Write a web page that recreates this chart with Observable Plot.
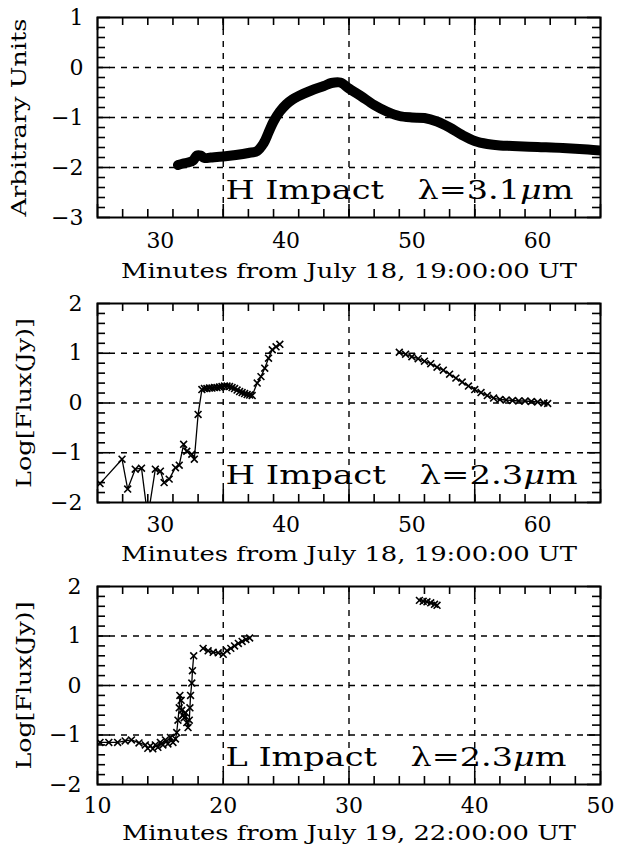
<!DOCTYPE html>
<html><head><meta charset="utf-8">
<script src="https://cdn.jsdelivr.net/npm/d3@7"></script>
<script src="https://cdn.jsdelivr.net/npm/@observablehq/plot@0.6"></script>
<style>
html,body{margin:0;padding:0;background:#fff;overflow:hidden;}
#chart svg{display:block;}
</style></head><body><div id="chart"></div>
<script>
// ---------- Panel 1: H impact, 3.1 micron ----------
const p1Minutes = [31.4,31.8,32.2,32.6,32.9,33.2,33.5,34,35,36,37,37.7,38.2,38.6,39,39.5,40,40.5,41,42,43,43.6,44.3,45,45.5,46,47,48,49,50,51,52,53,54,55,56,57,58,60,62,64,65];
const p1Units   = [-1.95,-1.92,-1.9,-1.86,-1.76,-1.76,-1.81,-1.8,-1.78,-1.75,-1.71,-1.67,-1.52,-1.3,-1.08,-0.88,-0.74,-0.64,-0.57,-0.46,-0.37,-0.31,-0.3,-0.42,-0.5,-0.58,-0.75,-0.88,-0.97,-1.0,-1.01,-1.08,-1.2,-1.35,-1.47,-1.53,-1.56,-1.57,-1.59,-1.61,-1.64,-1.66];

// ---------- Panel 2: H impact, 2.3 micron ----------
const p2aMinutes = [25.2,26.95,27.4,28.0,28.5,29.0,29.6,30.0,30.3,30.7,31.2,31.5,31.85,32.1,32.5,32.7,33.0,33.3,33.5,33.7,33.9,34.1,34.3,34.5,34.7,34.9,35.1,35.3,35.5,35.7,35.9,36.1,36.3,36.5,36.7,36.9,37.1,37.3,37.7,38.0,38.3,38.6,38.9,39.2,39.5];
const p2aFlux    = [-1.62,-1.13,-1.73,-1.33,-1.31,-2.3,-1.33,-1.37,-1.6,-1.53,-1.3,-1.25,-0.83,-0.97,-1.03,-1.13,-0.23,0.27,0.29,0.29,0.30,0.30,0.31,0.31,0.32,0.33,0.34,0.34,0.33,0.31,0.29,0.26,0.23,0.21,0.19,0.17,0.16,0.15,0.4,0.53,0.7,0.9,1.07,1.13,1.18];
const p2bMinutes = [49.0,49.5,50.0,50.5,51,51.5,52,52.5,53,53.5,54,54.5,55,55.5,56,56.5,57,57.5,58,58.5,59,59.5,60,60.5,60.8];
const p2bFlux    = [1.02,0.98,0.93,0.89,0.84,0.79,0.72,0.66,0.58,0.5,0.42,0.34,0.27,0.21,0.15,0.1,0.07,0.06,0.05,0.04,0.04,0.03,0.02,0.0,-0.01];

// ---------- Panel 3: L impact, 2.3 micron ----------
const p3aMinutes = [10.2,10.9,11.6,12.2,12.7,13.3,13.8,14.0,14.2,14.4,14.6,14.8,15.0,15.2,15.4,15.6,15.8,16.0,16.2,16.3,16.4,16.5,16.55,16.65,16.7,16.8,16.9,17.0,17.1,17.2,17.3,17.35,17.4,17.5,17.55,17.65];
const p3aFlux    = [-1.15,-1.15,-1.15,-1.12,-1.1,-1.16,-1.2,-1.27,-1.22,-1.28,-1.2,-1.25,-1.15,-1.2,-1.1,-1.18,-1.05,-1.15,-1.08,-0.95,-0.7,-0.45,-0.2,-0.3,-0.5,-0.6,-0.65,-0.55,-0.75,-0.85,-0.7,-0.45,-0.2,0.05,0.3,0.6];
const p3bMinutes = [18.4,18.8,19.2,19.6,20.0,20.3,20.6,20.9,21.2,21.5,21.8,22.1];
const p3bFlux    = [0.75,0.7,0.67,0.66,0.63,0.7,0.75,0.8,0.85,0.89,0.93,0.96];
const p3cMinutes = [35.6,35.9,36.2,36.5,36.8,37.0];
const p3cFlux    = [1.72,1.70,1.69,1.67,1.64,1.62];

// ---------- axes ----------
const p12XTicks = [30,40,50,60];
const p1YTicks  = [1,0,-1,-2,-3];
const p23YTicks = [2,1,0,-1,-2];
const p3XTicks  = [10,20,30,40,50];
const xLabel1 = "Minutes from July 18, 19:00:00 UT";
const xLabel3 = "Minutes from July 19, 22:00:00 UT";
const yLabel1 = "Arbitrary Units";
const yLabel23 = "Log[Flux(Jy)]";
const note1 = "H Impact\u2002\u2002λ=3.1μm";
const note2 = "H Impact\u2002\u2002λ=2.3μm";
const note3 = "L Impact\u2002\u2002λ=2.3μm";

const rows = (xs, ys, seg) => xs.map((x, i) => ({x, y: ys[i], seg}));
const NS = "http://www.w3.org/2000/svg";
const intFormat = d => d < 0 ? "\u2212" + (-d) : String(d);

function fitText(svg, str, len) {
  const t = [...svg.querySelectorAll("text")].find(e => e.textContent === str);
  if (!t) return;
  const i = str.indexOf("μ");
  if (i >= 0) {
    t.textContent = "";
    for (const [s, it] of [[str.slice(0, i), false], ["μ", true], [str.slice(i + 1), false]]) {
      const ts = document.createElementNS(NS, "tspan");
      ts.textContent = s;
      if (it) ts.setAttribute("font-style", "italic");
      t.appendChild(ts);
    }
  }
  t.setAttribute("textLength", len);
  t.setAttribute("lengthAdjust", "spacingAndGlyphs");
}

function panel(o) {
  const W = 617, ml = 97, mr = 17, fw = W - ml - mr;
  const fh = o.fh, height = o.mt + fh + o.mb;
  const MAJ = 13, MIN = 8;
  const tk = {stroke: "black", strokeWidth: 1.6};
  const [x0, x1] = o.xDomain, [y0, y1] = o.yDomain;
  const xMajor = d3.range(x0, x1 + 0.001, 10);
  const xMinor = d3.range(x0 / 2, x1 / 2 + 0.001).map(v => v * 2).filter(v => v % 10 !== 0 && v > x0 && v < x1);
  const yMajor = d3.range(y0, y1 + 0.001, 1);
  const yMinor = d3.range(y0 * 5, y1 * 5 + 0.001).map(v => v / 5).filter(v => Math.abs(v - Math.round(v)) > 1e-6);
  const xGrid = xMajor.filter(v => v > x0 && v < x1);
  const yGrid = yMajor.filter(v => v > y0 && v < y1);
  const svg = Plot.plot({
    width: W, height, marginLeft: ml, marginRight: mr, marginTop: o.mt, marginBottom: o.mb,
    style: {fontFamily: "DejaVu Serif", background: "white", color: "black", overflow: "visible"},
    x: {domain: o.xDomain},
    y: {domain: o.yDomain},
    marks: [
      Plot.ruleX(xGrid, {x: d => d, stroke: "black", strokeWidth: 1.4, strokeDasharray: "6,6"}),
      Plot.ruleY(yGrid, {y: d => d, stroke: "black", strokeWidth: 1.4, strokeDasharray: "6,6"}),
      Plot.tickX(xMajor, {x: d => d, insetTop: fh - MAJ, ...tk}),
      Plot.tickX(xMajor, {x: d => d, insetBottom: fh - MAJ, ...tk}),
      Plot.tickX(xMinor, {x: d => d, insetTop: fh - MIN, ...tk}),
      Plot.tickX(xMinor, {x: d => d, insetBottom: fh - MIN, ...tk}),
      Plot.tickY(yMajor, {y: d => d, insetRight: fw - MAJ, ...tk}),
      Plot.tickY(yMajor, {y: d => d, insetLeft: fw - MAJ, ...tk}),
      Plot.tickY(yMinor, {y: d => d, insetRight: fw - MIN, ...tk}),
      Plot.tickY(yMinor, {y: d => d, insetLeft: fw - MIN, ...tk}),
      Plot.axisX({ticks: o.xTicks, tickSize: 0, tickPadding: o.xPad, fontSize: 22, label: null, tickFormat: intFormat}),
      Plot.axisY({ticks: o.yTicks, tickSize: 0, tickPadding: o.yPad, fontSize: 22, label: null, tickFormat: intFormat}),
      Plot.frame({stroke: "black", strokeWidth: 2}),
      ...o.marks,
      Plot.text([o.xLabel], {text: d => d, frameAnchor: "bottom", textAnchor: "middle", lineAnchor: "middle", dy: o.xlDy, fontFamily: "DejaVu Serif", fontSize: 20.5}),
      Plot.text([o.yLabel], {text: d => d, frameAnchor: "left", textAnchor: "middle", lineAnchor: "middle", rotate: -90, dx: o.ylDx, fontFamily: "DejaVu Serif", fontSize: 20}),
      Plot.text([o.note], {text: d => d, frameAnchor: "bottom-right", textAnchor: "end", lineAnchor: "middle", dx: o.noteDx, dy: -27, fontFamily: "DejaVu Serif", fontSize: 26.5})
    ]
  });
  fitText(svg, o.xLabel, o.xlLen);
  fitText(svg, o.yLabel, o.ylLen);
  fitText(svg, o.note, o.noteLen);
  return svg;
}

const crossStyle = {symbol: "times", r: 3.2, stroke: "black", strokeWidth: 1.6, clip: true};
const p2 = [...rows(p2aMinutes, p2aFlux, "a"), ...rows(p2bMinutes, p2bFlux, "b")];
const p3 = [...rows(p3aMinutes, p3aFlux, "a"), ...rows(p3bMinutes, p3bFlux, "b"), ...rows(p3cMinutes, p3cFlux, "c")];

const chart = document.getElementById("chart");
chart.append(panel({
  xDomain: [25, 65], yDomain: [-3, 1], xTicks: p12XTicks, yTicks: p1YTicks,
  mt: 17, fh: 200, mb: 68, xPad: 15, yPad: 14,
  xLabel: xLabel1, xlDy: 54, xlLen: 456,
  yLabel: yLabel1, ylDx: -78, ylLen: 198,
  note: note1, noteDx: -27, noteLen: 348,
  marks: [Plot.line(rows(p1Minutes, p1Units, "a"), {x: "x", y: "y", stroke: "black", strokeWidth: 10, curve: "catmull-rom", clip: true})]
}));
chart.append(panel({
  xDomain: [25, 65], yDomain: [-2, 2], xTicks: p12XTicks, yTicks: p23YTicks,
  mt: 18, fh: 199, mb: 68, xPad: 14, yPad: 15,
  xLabel: xLabel1, xlDy: 52, xlLen: 456,
  yLabel: yLabel23, ylDx: -73, ylLen: 170,
  note: note2, noteDx: -23, noteLen: 352,
  marks: [
    Plot.line(p2, {x: "x", y: "y", z: "seg", stroke: "black", strokeWidth: 1.3, clip: true}),
    Plot.dot(p2, {x: "x", y: "y", ...crossStyle})
  ]
}));
chart.append(panel({
  xDomain: [10, 50], yDomain: [-2, 2], xTicks: p3XTicks, yTicks: p23YTicks,
  mt: 16, fh: 198, mb: 66, xPad: 13, yPad: 16,
  xLabel: xLabel3, xlDy: 49, xlLen: 454,
  yLabel: yLabel23, ylDx: -73, ylLen: 168,
  note: note3, noteDx: -34, noteLen: 341,
  marks: [
    Plot.line(p3, {x: "x", y: "y", z: "seg", stroke: "black", strokeWidth: 1.3, clip: true}),
    Plot.dot(p3, {x: "x", y: "y", ...crossStyle})
  ]
}));
</script></body></html>
